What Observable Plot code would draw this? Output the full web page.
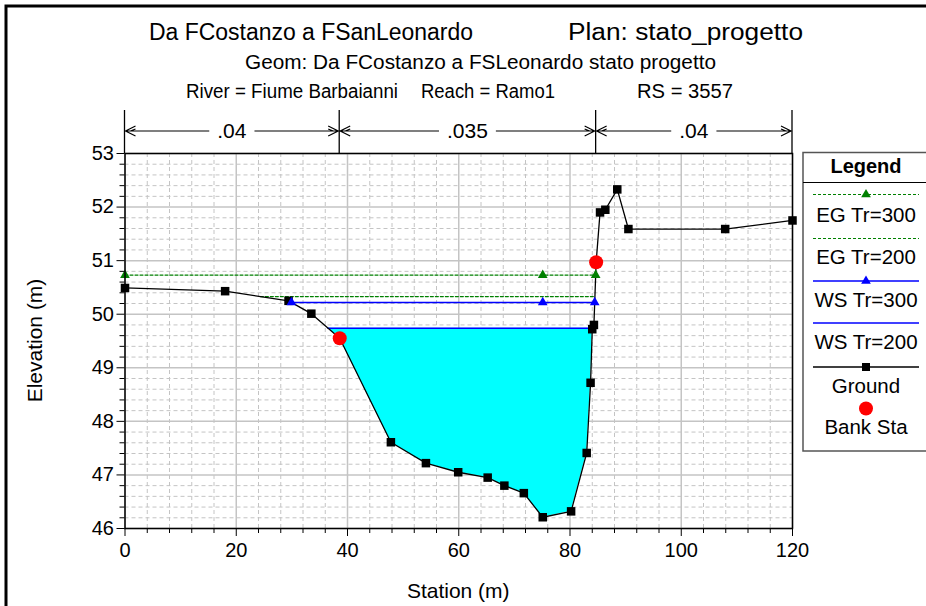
<!DOCTYPE html>
<html><head><meta charset="utf-8">
<script src="https://cdn.jsdelivr.net/npm/d3@7"></script>
<script src="https://cdn.jsdelivr.net/npm/@observablehq/plot@0.6"></script>
<style>
body{margin:0;background:#fff;}
#chart{width:926px;height:606px;overflow:hidden;}
svg text{font-family:"Liberation Sans",Arial,sans-serif;}
</style>
</head><body><div id="chart"></div>
<script>
// ---- data ----
const titleLeft = "Da FCostanzo a FSanLeonardo";
const titleRight = "Plan: stato_progetto";
const geomLine = "Geom: Da FCostanzo a FSLeonardo stato progetto";
const riverParts = ["River = Fiume Barbaianni", "Reach = Ramo1", "RS = 3557"];
const xLabel = "Station (m)";
const yLabel = "Elevation (m)";

const groundStation = [0, 18.0, 29.4, 33.5, 38.6, 47.8, 54.1, 59.9, 65.2, 68.2, 71.7, 75.1, 80.2, 83.0, 83.7, 84.0, 84.3, 84.7, 85.4, 86.35, 88.5, 90.5, 107.9, 120];
const groundElev    = [50.49, 50.43, 50.25, 50.01, 49.55, 47.61, 47.22, 47.05, 46.95, 46.80, 46.66, 46.21, 46.32, 47.41, 48.72, 49.72, 49.80, 50.97, 51.90, 51.95, 52.33, 51.59, 51.59, 51.75];
const bankStations = [38.6, 84.7];

const profileNames = ["EG Tr=300", "EG Tr=200", "WS Tr=300", "WS Tr=200"];
const profileElev  = [50.73, 50.33, 50.22, 49.74];
const profileColor = ["#008000", "#008000", "#0000ff", "#0000ff"];
const profileDash  = ["3,2", "3,2", null, null];
const profileMidMarker = [75.1, null, 75.1, null];
const waterProfile = 3; // filled profile (WS Tr=200)

const manningN = [".04", ".035", ".04"];
const xTicks = [0, 20, 40, 60, 80, 100, 120];
const yTicks = [46, 47, 48, 49, 50, 51, 52, 53];
const xMinor = d3.range(0, 121, 4).filter(v => v % 20 !== 0);
const yMinor = d3.range(460, 531, 2).map(v => v / 10).filter(v => Math.abs(v - Math.round(v)) > 1e-6);

// ---- derived ----
const ground = groundStation.map((s, i) => ({x: s, y: groundElev[i]}));
function groundAt(s) {
  for (let i = 1; i < ground.length; i++) {
    const a = ground[i-1], b = ground[i];
    if (s >= a.x && s <= b.x) return a.y + (b.y - a.y) * (s - a.x) / (b.x - a.x);
  }
  return ground[ground.length-1].y;
}
const iMin = d3.minIndex(groundElev);
function extent(L) {
  let i = iMin, left, right;
  while (i > 0 && groundElev[i-1] < L) i--;
  if (i === 0) left = groundStation[0];
  else { const a = ground[i-1], b = ground[i]; left = a.x + (L - a.y) * (b.x - a.x) / (b.y - a.y); }
  let j = iMin;
  while (j < ground.length - 1 && groundElev[j+1] < L) j++;
  if (j === ground.length - 1) right = groundStation[j];
  else { const a = ground[j], b = ground[j+1]; right = a.x + (L - a.y) * (b.x - a.x) / (b.y - a.y); }
  return [left, right];
}
const profiles = profileNames.map((name, k) => {
  const [l, r] = extent(profileElev[k]);
  return {name, L: profileElev[k], l, r, color: profileColor[k], dash: profileDash[k], mid: profileMidMarker[k]};
});
const wp = profiles[waterProfile];
const water = [{x: wp.l, g: wp.L}, ...ground.filter(d => d.x > wp.l && d.x < wp.r).map(d => ({x: d.x, g: d.y})), {x: wp.r, g: wp.L}];
const banks = bankStations.map(s => ({x: s, y: groundAt(s)}));

const marks = [
  Plot.ruleX(xMinor, {stroke: "#c4c4c4", strokeDasharray: "4,3", strokeWidth: 1}),
  Plot.ruleY(yMinor, {stroke: "#c4c4c4", strokeDasharray: "4,3", strokeWidth: 1}),
  Plot.ruleX(xTicks, {stroke: "#c4c4c4", strokeWidth: 1.5}),
  Plot.ruleY(yTicks, {stroke: "#c4c4c4", strokeWidth: 1.5}),
  Plot.areaY(water, {x: "x", y1: "g", y2: () => wp.L, fill: "#00ffff", fillOpacity: 1, curve: "linear"})
];
profiles.forEach(p => {
  marks.push(Plot.line([{x: p.l, y: p.L}, {x: p.r, y: p.L}], {x: "x", y: "y", stroke: p.color, strokeWidth: p.dash ? 1.2 : 1.5, strokeDasharray: p.dash}));
});
marks.push(Plot.line(ground, {x: "x", y: "y", stroke: "black", strokeWidth: 1.3}));
marks.push(Plot.dot(ground, {x: "x", y: "y", symbol: "square", fill: "black", r: 4.8}));
profiles.forEach(p => {
  if (p.mid != null) {
    marks.push(Plot.dot([p.l, p.mid, p.r].map(x => ({x, y: p.L})), {x: "x", y: "y", symbol: "triangle", fill: p.color, r: 3.6}));
  }
});
marks.push(Plot.dot(banks, {x: "x", y: "y", fill: "#ff0000", r: 7}));
marks.push(Plot.axisX(xTicks, {tickSize: 8, tickPadding: 6, label: null, stroke: "black", tickFormat: d3.format("d")}));
marks.push(Plot.axisX(xMinor, {tickSize: 5, text: null, label: null, stroke: "black"}));
marks.push(Plot.axisY(yTicks, {tickSize: 8, tickPadding: 3, label: null, stroke: "black", tickFormat: d3.format("d")}));
marks.push(Plot.axisY(yMinor, {tickSize: 5, text: null, label: null, stroke: "black"}));
marks.push(Plot.frame({stroke: "black", strokeWidth: 1.5}));

const svg = Plot.plot({
  width: 926, height: 606,
  marginLeft: 124.5, marginRight: 134, marginTop: 153, marginBottom: 78,
  x: {domain: [0, 120]},
  y: {domain: [46, 53]},
  style: {fontSize: "20px", fontFamily: "'Liberation Sans', Arial, sans-serif", color: "black", background: "white"},
  marks
});
document.getElementById("chart").appendChild(svg);

const X = svg.scale("x"), Y = svg.scale("y");
const S = d3.select(svg);
const x0 = X.apply(0), x1 = X.apply(120), yTop = Y.apply(53), yBot = Y.apply(46);

// border (top and left)
S.append("path").attr("d", "M6,612V6H932").attr("fill", "none").attr("stroke", "black").attr("stroke-width", 3);

// titles
function txt(x, y, s, size, anchor, weight, len) {
  const t = S.append("text").attr("x", x).attr("y", y).attr("font-size", size).attr("text-anchor", anchor || "start")
    .attr("font-weight", weight || "normal").attr("fill", "black").text(s);
  if (len) t.attr("textLength", len).attr("lengthAdjust", "spacingAndGlyphs");
  return t;
}
txt(149, 40, titleLeft, 23, "start", null, 324);
txt(568, 40, titleRight, 23, "start", null, 235);
txt(245, 69, geomLine, 20.5, "start", null, 471);
txt(186, 98, riverParts[0], 19.5, "start", null, 212);
txt(421, 98, riverParts[1], 19.5, "start", null, 134);
txt(637, 98, riverParts[2], 19.5, "start", null, 96);

// axis labels
txt((x0 + x1) / 2, 598, xLabel, 21, "middle");
S.append("text").attr("transform", `translate(42,${(yTop + yBot) / 2}) rotate(-90)`).attr("text-anchor", "middle")
  .attr("font-size", 21).attr("fill", "black").text(yLabel);

// Manning's n bar
const bounds = [0, ...bankStations, 120].map(v => X.apply(v));
const nY = 131, nTop = 110;
bounds.forEach(b => S.append("line").attr("x1", b).attr("x2", b).attr("y1", nTop).attr("y2", yTop).attr("stroke", "black").attr("stroke-width", 1.3));
manningN.forEach((n, i) => {
  const a = bounds[i], b = bounds[i+1], m = (a + b) / 2;
  const t = txt(m, nY + 7, n, 21, "middle");
  const w = t.node().getComputedTextLength() / 2 + 8;
  S.append("path").attr("fill", "none").attr("stroke", "black").attr("stroke-width", 1.2)
    .attr("d", `M${a},${nY}H${m - w}M${m + w},${nY}H${b}` +
      `M${a + 11},${nY - 5}L${a + 1},${nY}L${a + 11},${nY + 5}M${a + 6},${nY}L${a + 11},${nY - 2}` +
      `M${b - 11},${nY - 5}L${b - 1},${nY}L${b - 11},${nY + 5}M${b - 6},${nY}L${b - 11},${nY - 2}`);
});

// legend
const lgX = 803, lgY = 152.5, lgR = 940, lgB = 451, lgC = 866, lw = 53;
S.append("rect").attr("x", lgX).attr("y", lgY).attr("width", lgR - lgX).attr("height", lgB - lgY)
  .attr("fill", "white").attr("stroke", "#555").attr("stroke-width", 1.5);
txt(lgC, 173, "Legend", 20, "middle", "bold");
S.append("line").attr("x1", lgX).attr("x2", lgR).attr("y1", 182.5).attr("y2", 182.5).attr("stroke", "black").attr("stroke-width", 1.2);
const entryLineY = [194.5, 238.5, 281, 323, 367];
const entryTextY = [221.5, 264, 306.5, 348.5, 392.5];
profiles.forEach((p, k) => {
  S.append("line").attr("x1", lgC - lw).attr("x2", lgC + lw).attr("y1", entryLineY[k]).attr("y2", entryLineY[k])
    .attr("stroke", p.color).attr("stroke-width", p.dash ? 1.2 : 1.5).attr("stroke-dasharray", p.dash);
  if (p.mid != null) S.append("path").attr("d", d3.symbol(d3.symbolTriangle, Math.PI * 3.6 * 3.6)())
    .attr("transform", `translate(${lgC},${entryLineY[k]})`).attr("fill", p.color);
  txt(lgC, entryTextY[k], p.name, 20.5, "middle");
});
S.append("line").attr("x1", lgC - lw).attr("x2", lgC + lw).attr("y1", entryLineY[4]).attr("y2", entryLineY[4]).attr("stroke", "black").attr("stroke-width", 1.3);
S.append("rect").attr("x", lgC - 4).attr("y", entryLineY[4] - 4).attr("width", 8).attr("height", 8).attr("fill", "black");
txt(lgC, entryTextY[4], "Ground", 20.5, "middle");
S.append("circle").attr("cx", lgC).attr("cy", 408.5).attr("r", 7).attr("fill", "#ff0000");
txt(lgC, 433.5, "Bank Sta", 20.5, "middle");
</script>
</body></html>
